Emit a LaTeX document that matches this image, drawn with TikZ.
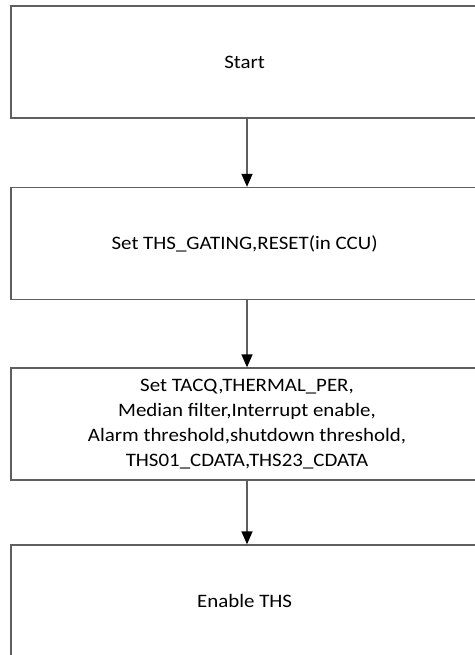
\documentclass[tikz,border=0pt]{standalone}
\usepackage{fontspec}
\setmainfont{Carlito}[FakeStretch=1.1]
\definecolor{boxgray}{HTML}{5F5F5F}
\usetikzlibrary{arrows.meta, positioning}
\tikzset{
	stepnode/.style={
			rectangle,
			draw=boxgray,
			line width=1.3pt,
			fill=white,
			minimum width=472pt,
			minimum height=112pt,
			inner sep=0pt,
			align=center,
			font=\fontsize{19}{25}\selectfont
		},
	flowarrow/.style={
			draw=boxgray,
			line width=1.3pt,
			-{Triangle[width=11pt,length=13pt,fill=black,color=black]}
		}
}

\begin{document}
\begin{tikzpicture}[x=1pt, y=-1pt]
\useasboundingbox (0,0) rectangle (474,655);
\node[stepnode] (n1) at (247,62)  { Start };
\node[stepnode] (n2) at (247,243.5)  { Set THS\_GATING,RESET(in CCU) };
\node[stepnode] (n3) at (247,424)  { Set TACQ,THERMAL\_PER,\\ Median filter,Interrupt enable,\\ Alarm threshold,shutdown threshold,\\ THS01\_CDATA,THS23\_CDATA };
\node[stepnode] (n4) at (247,601)  { Enable THS };

\draw[flowarrow] (n1) -- (n2);
\draw[flowarrow] (n2) -- (n3);

\draw[flowarrow] (n3) -- (n4);

\end{tikzpicture}
\end{document}
